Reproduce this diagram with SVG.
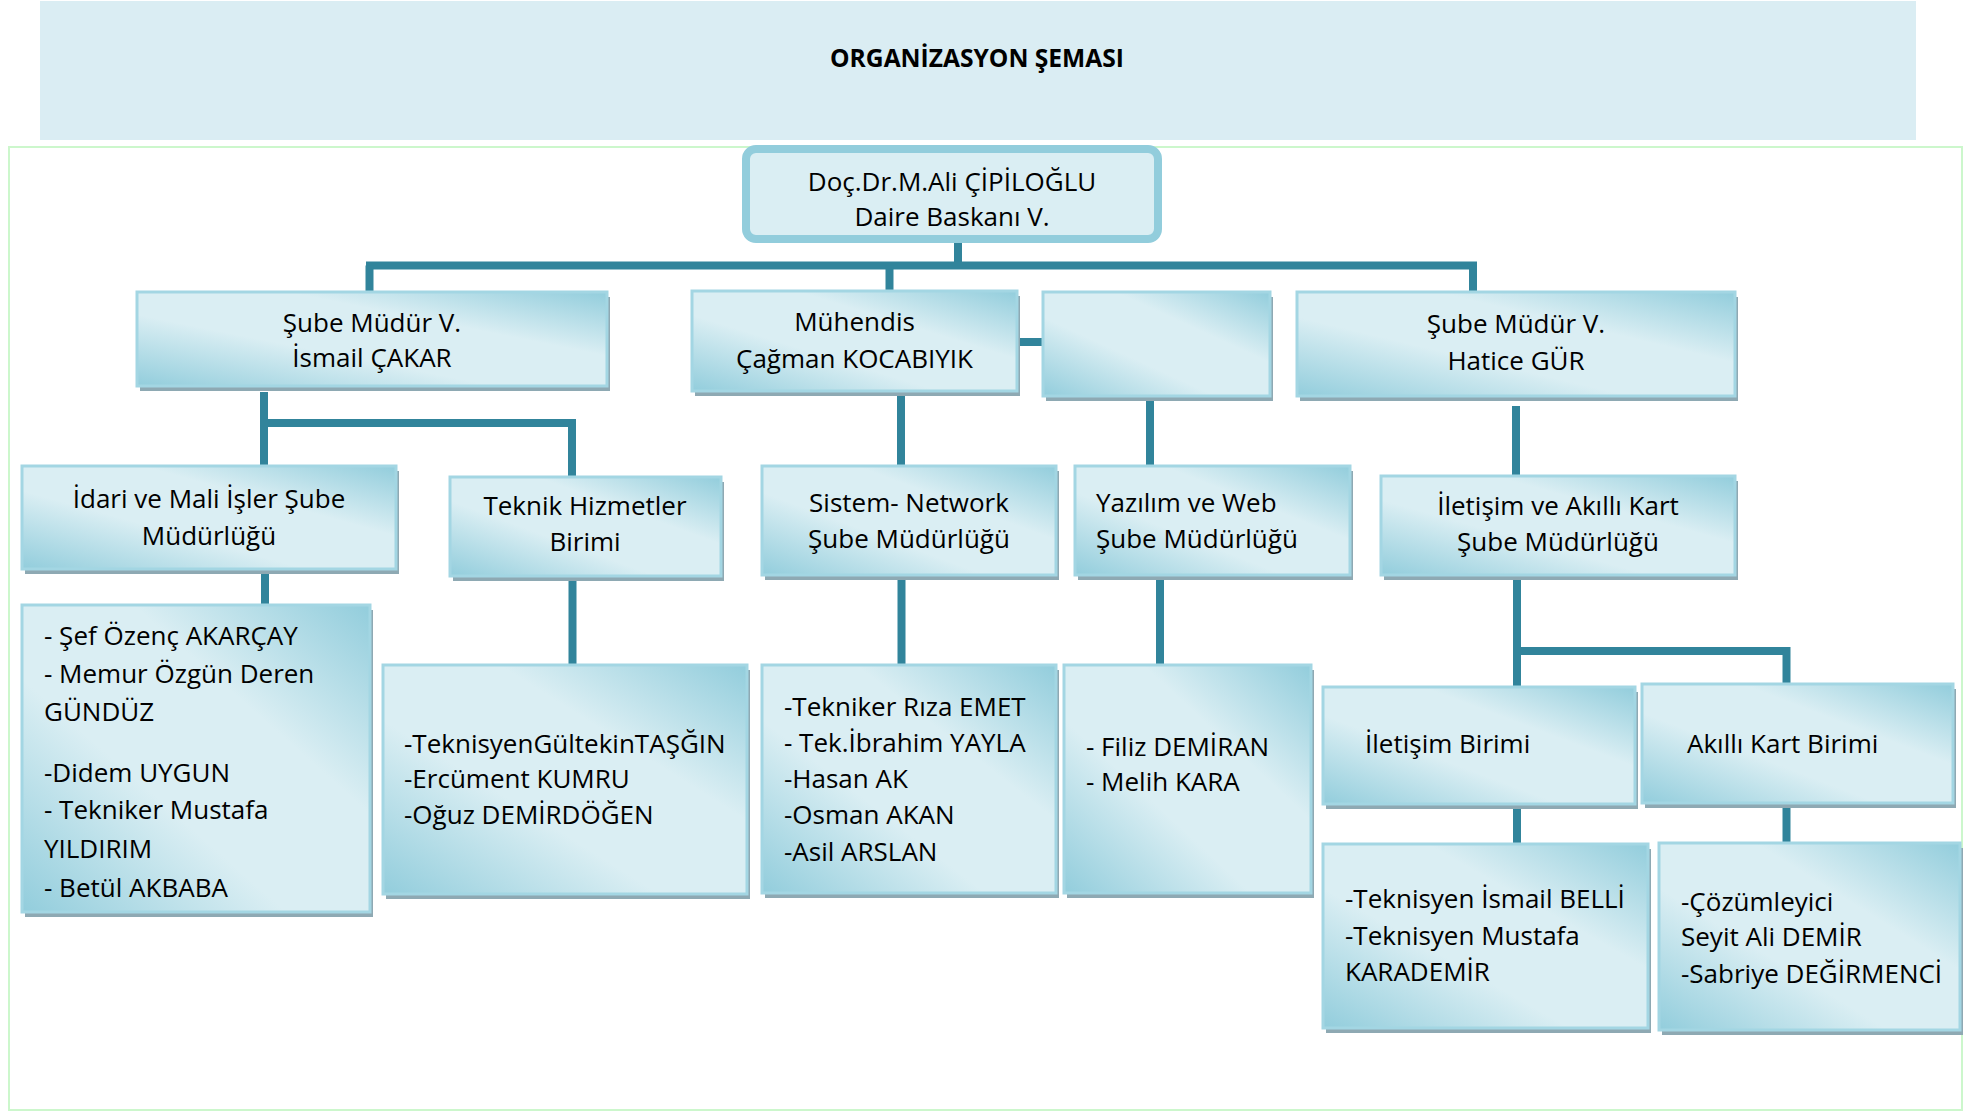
<svg xmlns="http://www.w3.org/2000/svg" width="1966" height="1112" viewBox="0 0 1966 1112">
  <defs>
    <!-- diagonal sheen used by every unit box -->
    <linearGradient id="sheen" x1="1" y1="0" x2="0" y2="1">
      <stop offset="0" stop-color="#92CDDC"/>
      <stop offset="0.34" stop-color="#DAEEF3"/>
      <stop offset="0.62" stop-color="#DAEEF3"/>
      <stop offset="1" stop-color="#92CDDC"/>
    </linearGradient>
  </defs>
  <style>
    .t { font-family: "Open Sans", "Liberation Sans", sans-serif; font-size: 26px; fill: #000; }
    .c { text-anchor: middle; }
    .title { font-family: "Open Sans", "Liberation Sans", sans-serif; font-size: 24.6px; font-weight: bold; fill: #000; text-anchor: middle; }
    .box { fill: url(#sheen); stroke: #A3D6E3; stroke-width: 3; }
    .sh { fill: #8EA9B3; }
    .ln { stroke: #31849B; stroke-width: 8; fill: none; }
  </style>

  <rect width="1966" height="1112" fill="#FFFFFF"/>

  <!-- heading band -->
  <g id="heading">
    <rect x="40" y="1" width="1876" height="139" fill="#DAEDF3"/>
    <text class="title" x="977" y="67">ORGANİZASYON ŞEMASI</text>
  </g>

  <!-- chart frame -->
  <rect x="9" y="147" width="1953" height="963" fill="none" stroke="#CCF7CC" stroke-width="2"/>

  <!-- connectors -->
  <g id="connectors" class="ln">
    <path d="M958 243 V265.5"/>
    <path d="M366 265.5 H1477"/>
    <path d="M369.5 265.5 V292"/>
    <path d="M889.5 265.5 V291"/>
    <path d="M1473 265.5 V292"/>
    <path d="M1017 342 H1043"/>
    <path d="M264 392 V466"/>
    <path d="M260 423 H576"/>
    <path d="M572 419 V477"/>
    <path d="M901 391 V466"/>
    <path d="M1150 396 V466"/>
    <path d="M1516 406 V476"/>
    <path d="M265 569 V605"/>
    <path d="M572.5 576 V665"/>
    <path d="M901.5 575 V665"/>
    <path d="M1160 575 V665"/>
    <path d="M1517 575 V687"/>
    <path d="M1513 651 H1790"/>
    <path d="M1786.5 647 V684"/>
    <path d="M1517 804 V844"/>
    <path d="M1786.5 803 V843"/>
  </g>

  <!-- head of department -->
  <g id="head">
    <rect x="746" y="149" width="412" height="90" rx="10" fill="#DAEEF3" stroke="#92CDDC" stroke-width="8"/>
    <text class="t c" x="952" y="191">Doç.Dr.M.Ali ÇİPİLOĞLU</text>
    <text class="t c" x="952" y="226">Daire Baskanı V.</text>
  </g>

  <g id="b1">
    <rect class="sh" x="140" y="297" width="470" height="94"/>
    <rect class="box" x="137" y="292" width="470" height="94"/>
    <text class="t c" x="372" y="332">Şube Müdür V.</text>
    <text class="t c" x="372" y="367">İsmail ÇAKAR</text>
  </g>

  <g id="b2">
    <rect class="sh" x="695" y="296" width="325" height="100"/>
    <rect class="box" x="692" y="291" width="325" height="100"/>
    <text class="t c" x="854.5" y="331">Mühendis</text>
    <text class="t c" x="854.5" y="368">Çağman KOCABIYIK</text>
  </g>

  <g id="b3">
    <rect class="sh" x="1046" y="297" width="227" height="104"/>
    <rect class="box" x="1043" y="292" width="227" height="104"/>
  </g>

  <g id="b4">
    <rect class="sh" x="1300" y="297" width="438" height="104"/>
    <rect class="box" x="1297" y="292" width="438" height="104"/>
    <text class="t c" x="1516" y="333">Şube Müdür V.</text>
    <text class="t c" x="1516" y="370">Hatice GÜR</text>
  </g>

  <g id="c1">
    <rect class="sh" x="25" y="471" width="374" height="103"/>
    <rect class="box" x="22" y="466" width="374" height="103"/>
    <text class="t c" x="209" y="508">İdari ve Mali İşler Şube</text>
    <text class="t c" x="209" y="545">Müdürlüğü</text>
  </g>

  <g id="c2">
    <rect class="sh" x="453" y="482" width="271" height="99"/>
    <rect class="box" x="450" y="477" width="271" height="99"/>
    <text class="t c" x="585" y="515">Teknik Hizmetler</text>
    <text class="t c" x="585" y="551">Birimi</text>
  </g>

  <g id="c3">
    <rect class="sh" x="765" y="471" width="294" height="109"/>
    <rect class="box" x="762" y="466" width="294" height="109"/>
    <text class="t c" x="909" y="512">Sistem- Network</text>
    <text class="t c" x="909" y="548">Şube Müdürlüğü</text>
  </g>

  <g id="c4">
    <rect class="sh" x="1078" y="471" width="275" height="109"/>
    <rect class="box" x="1075" y="466" width="275" height="109"/>
    <text class="t" x="1096" y="512">Yazılım ve Web</text>
    <text class="t" x="1096" y="548">Şube Müdürlüğü</text>
  </g>

  <g id="c5">
    <rect class="sh" x="1384" y="481" width="354" height="99"/>
    <rect class="box" x="1381" y="476" width="354" height="99"/>
    <text class="t c" x="1558" y="515">İletişim ve Akıllı Kart</text>
    <text class="t c" x="1558" y="551">Şube Müdürlüğü</text>
  </g>

  <g id="p1">
    <rect class="sh" x="25" y="610" width="348" height="307"/>
    <rect class="box" x="22" y="605" width="348" height="307"/>
    <text class="t" x="44" y="645">- Şef Özenç AKARÇAY</text>
    <text class="t" x="44" y="683">- Memur Özgün Deren</text>
    <text class="t" x="44" y="721">GÜNDÜZ</text>
    <text class="t" x="44" y="782">-Didem UYGUN</text>
    <text class="t" x="44" y="819">- Tekniker Mustafa</text>
    <text class="t" x="44" y="858">YILDIRIM</text>
    <text class="t" x="44" y="897">- Betül AKBABA</text>
  </g>

  <g id="p2">
    <rect class="sh" x="386" y="670" width="364" height="229"/>
    <rect class="box" x="383" y="665" width="364" height="229"/>
    <text class="t" x="404" y="753">-TeknisyenGültekinTAŞĞIN</text>
    <text class="t" x="404" y="788">-Ercüment KUMRU</text>
    <text class="t" x="404" y="824">-Oğuz DEMİRDÖĞEN</text>
  </g>

  <g id="p3">
    <rect class="sh" x="765" y="670" width="294" height="228"/>
    <rect class="box" x="762" y="665" width="294" height="228"/>
    <text class="t" x="784" y="716">-Tekniker Rıza EMET</text>
    <text class="t" x="784" y="752">- Tek.İbrahim YAYLA</text>
    <text class="t" x="784" y="788">-Hasan AK</text>
    <text class="t" x="784" y="824">-Osman AKAN</text>
    <text class="t" x="784" y="861">-Asil ARSLAN</text>
  </g>

  <g id="p4">
    <rect class="sh" x="1067" y="670" width="247" height="228"/>
    <rect class="box" x="1064" y="665" width="247" height="228"/>
    <text class="t" x="1086" y="756">- Filiz DEMİRAN</text>
    <text class="t" x="1086" y="791">- Melih KARA</text>
  </g>

  <g id="d1">
    <rect class="sh" x="1326" y="692" width="312" height="117"/>
    <rect class="box" x="1323" y="687" width="312" height="117"/>
    <text class="t" x="1365" y="753">İletişim Birimi</text>
  </g>

  <g id="d2">
    <rect class="sh" x="1645" y="689" width="311" height="119"/>
    <rect class="box" x="1642" y="684" width="311" height="119"/>
    <text class="t" x="1687" y="753">Akıllı Kart Birimi</text>
  </g>

  <g id="e1">
    <rect class="sh" x="1326" y="849" width="325" height="184"/>
    <rect class="box" x="1323" y="844" width="325" height="184"/>
    <text class="t" x="1345" y="908">-Teknisyen İsmail BELLİ</text>
    <text class="t" x="1345" y="945">-Teknisyen Mustafa</text>
    <text class="t" x="1345" y="981">KARADEMİR</text>
  </g>

  <g id="e2">
    <rect class="sh" x="1662" y="848" width="301" height="187"/>
    <rect class="box" x="1659" y="843" width="301" height="187"/>
    <text class="t" x="1681" y="911">-Çözümleyici</text>
    <text class="t" x="1681" y="946">Seyit Ali DEMİR</text>
    <text class="t" x="1681" y="983">-Sabriye DEĞİRMENCİ</text>
  </g>
</svg>
